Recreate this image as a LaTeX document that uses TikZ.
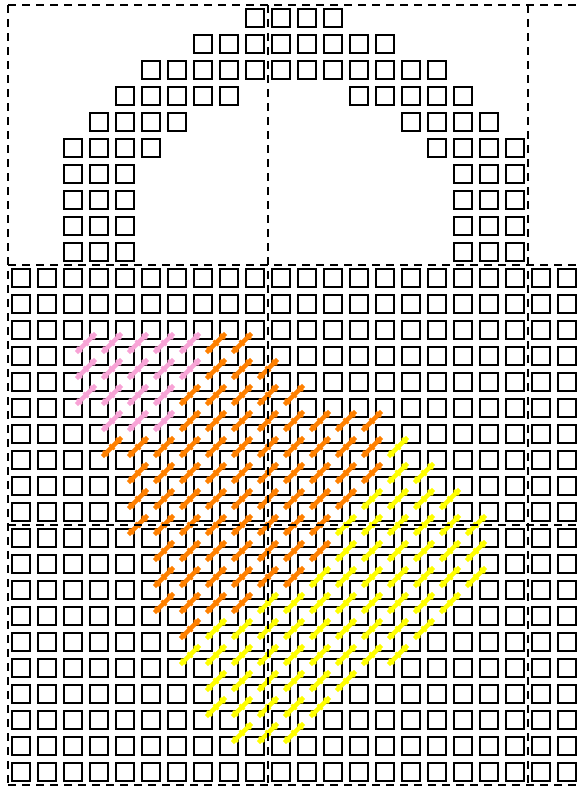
\documentclass[tikz,border=0pt]{standalone}
\usepackage{xcolor}
\usepackage{tikz}

\definecolor{threadpink}{RGB}{248,163,214}
\definecolor{threadorange}{RGB}{255,128,0}
\definecolor{threadyellow}{RGB}{255,255,0}

\begin{document}
\begin{tikzpicture}[
    x=26pt, y=-26pt,
    cellbox/.style={draw=black, line width=2.7pt},
    pageline/.style={draw=black, line width=2.8pt, dash pattern=on 8pt off 6pt},
    pics/xstitch/.style={code={
        \draw[#1, line width=4.4pt] (-0.37,0.37) -- (0.37,-0.37);
        \foreach \s in {-0.25,0,0.25}
            \draw[#1, line width=2.8pt] ({\s-0.095},{-\s-0.095}) -- ({\s+0.095},{-\s+0.095});
    }}
]
\useasboundingbox ({-8/26},{-5/26}) rectangle ({571/26},{785/26});

% Handle (mirrored about the middle)
\foreach \r/\a/\b in {0/9/10, 1/7/10, 2/5/10, 3/4/8, 4/3/6, 5/2/5, 6/2/4, 7/2/4, 8/2/4, 9/2/4}
    \foreach \c in {\a,...,\b} {
        \draw[cellbox] (\c+0.156,\r+0.156) rectangle +(0.688,0.688);
        \draw[cellbox] (21-\c+0.156,\r+0.156) rectangle +(0.688,0.688);
    }

% Body
\foreach \r in {10,...,29}
    \foreach \c in {0,...,21}
        \draw[cellbox] (\c+0.156,\r+0.156) rectangle +(0.688,0.688);

% Stitches
\foreach \j/\a/\b in {13/3/7, 14/3/7, 15/3/6, 16/4/6}
    \foreach \i in {\a,...,\b}
        \pic at (\i,\j) {xstitch=threadpink};

\foreach \j/\a/\b in {13/8/9, 14/8/10, 15/7/11, 16/7/14, 17/4/14, 18/5/14,
                      19/5/13, 20/5/12, 21/6/12, 22/6/11, 23/6/9, 24/7/7}
    \foreach \i in {\a,...,\b}
        \pic at (\i,\j) {xstitch=threadorange};

\foreach \j/\a/\b in {17/15/15, 18/15/16, 19/14/17, 20/13/18, 21/13/18, 22/12/18,
                      23/10/17, 24/8/16, 25/7/15, 26/8/13, 27/8/12, 28/9/11}
    \foreach \i in {\a,...,\b}
        \pic at (\i,\j) {xstitch=threadyellow};

% Page boundaries
\foreach \x in {0,10,20}
    \draw[pageline] (\x,0) -- (\x,30);
\foreach \y in {0,10,20,30}
    \draw[pageline] (0,\y) -- (22.2,\y);

\end{tikzpicture}
\end{document}
